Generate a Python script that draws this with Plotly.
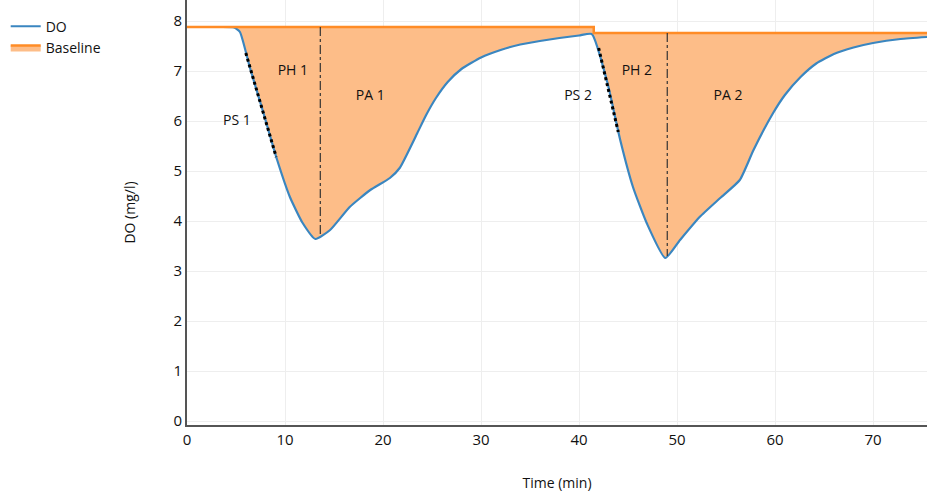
import plotly.graph_objects as go

# Data
time = [0, 3, 4.8, 5.4, 6.4, 7.8, 9.2, 10.5, 11.8, 13.1, 14.6, 16.6, 18.7, 20.7, 21.7, 23.5, 24.4, 25.4, 26.6,
        28, 30, 32, 34, 36, 38, 40, 41.3,
        42.9, 44.2, 45.5, 46.9, 48.8, 50.3, 52.3, 54.4, 56.4, 57.8, 59.8, 61, 62.6, 64.2, 66, 68, 70, 72.8, 75.5]
do_vals = [7.88, 7.88, 7.87, 7.78, 7.08, 6.16, 5.22, 4.48, 3.96, 3.64, 3.82, 4.28, 4.62, 4.86, 5.06, 5.76, 6.12, 6.46, 6.78,
           7.04, 7.27, 7.42, 7.53, 7.6, 7.66, 7.71, 7.74,
           6.76, 5.62, 4.68, 3.96, 3.26, 3.62, 4.08, 4.46, 4.82, 5.42, 6.16, 6.52, 6.88, 7.15, 7.34, 7.47, 7.56, 7.64, 7.68]
baseline_t = [0, 41.5, 41.5, 75.5]
baseline_v = [7.88, 7.88, 7.76, 7.76]

ps_lines = {"PS 1": ([6.0, 9.1], [7.36, 5.28]), "PS 2": ([42.0, 44.0], [7.46, 5.78])}
divider_lines = {"1": ([13.6, 13.6], [7.88, 3.7]), "2": ([49.0, 49.0], [7.76, 3.3])}
labels = ["PS 1", "PH 1", "PA 1", "PS 2", "PH 2", "PA 2"]
label_t = [5.1, 10.8, 18.7, 39.9, 45.9, 55.2]
label_v = [6.0, 7.0, 6.5, 6.5, 7.0, 6.5]

FONT = "Open Sans"
fig = go.Figure()
fig.add_trace(go.Scatter(x=time, y=do_vals, mode="lines", name="DO",
                         line=dict(color="#3a86c0", width=2.2, shape="spline", smoothing=0.5)))
fig.add_trace(go.Scatter(x=baseline_t, y=baseline_v, mode="lines", name="Baseline",
                         line=dict(color="#ff8c26", width=2.5), fill="tonexty",
                         fillcolor="#fdbd88"))
for k, (xs, ys) in ps_lines.items():
    fig.add_trace(go.Scatter(x=xs, y=ys, mode="lines", showlegend=False, hoverinfo="skip",
                             line=dict(color="black", width=3, dash="dot")))
for k, (xs, ys) in divider_lines.items():
    fig.add_trace(go.Scatter(x=xs, y=ys, mode="lines", showlegend=False, hoverinfo="skip",
                             line=dict(color="#333333", width=1.2, dash="dashdot")))
fig.add_trace(go.Scatter(x=label_t, y=label_v, mode="text", text=labels, showlegend=False,
                         textfont=dict(family=FONT, size=14, color="#111"), hoverinfo="skip"))

fig.update_layout(
    width=927, height=499,
    margin=dict(l=187, r=0, t=0, b=74),
    plot_bgcolor="white", paper_bgcolor="white",
    font=dict(family=FONT, size=14, color="#111"),
    legend=dict(x=-0.245, y=0.975, xanchor="left", yanchor="top", bgcolor="rgba(0,0,0,0)",
                traceorder="normal", font=dict(family=FONT, size=14), tracegroupgap=10),
    xaxis=dict(range=[0, 75.5], dtick=10, tick0=0, showgrid=True, gridcolor="#eeeeee",
               showline=True, linecolor="#555", linewidth=2, zeroline=False,
               ticks="", title=dict(text="Time (min)", font=dict(size=14), standoff=30),
               tickfont=dict(size=15)),
    yaxis=dict(range=[-0.08, 8.42], tickvals=list(range(9)), showgrid=True, gridcolor="#eeeeee",
               showline=True, linecolor="#555", linewidth=2, zeroline=False,
               ticks="", title=dict(text="DO (mg/l)", font=dict(size=14), standoff=35),
               tickfont=dict(size=15)),
)
fig.write_html("out.html")
